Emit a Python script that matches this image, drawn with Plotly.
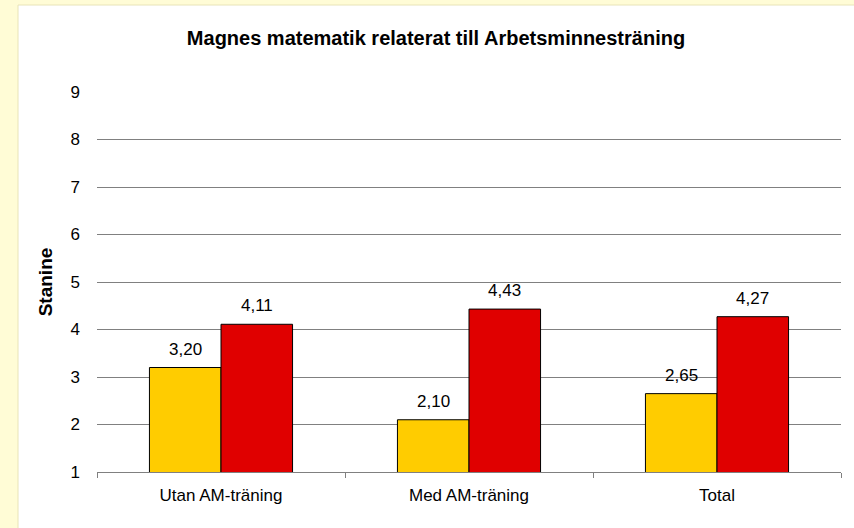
import plotly.graph_objects as go

categories = ["Utan AM-träning", "Med AM-träning", "Total"]
series_a = [3.20, 2.10, 2.65]
series_b = [4.11, 4.43, 4.27]
y_ticks = [1, 2, 3, 4, 5, 6, 7, 8, 9]

def fmt(v):
    return f"{v:.2f}".replace(".", ",")

FONT = "Liberation Sans, Arial, sans-serif"
BG = "#FFFCD6"

W, H = 854, 528
L, R, T, B = 97, 13, 92, 56
pw, ph = W - L - R, H - T - B
BARGAP = 0.423
bar_px = pw / len(categories) * (1 - BARGAP) / 2

fig = go.Figure()
fig.add_trace(go.Bar(
    x=categories, y=series_a, name="A",
    marker=dict(color="#FFCC00", line=dict(color="#000000", width=1)),
))
fig.add_trace(go.Bar(
    x=categories, y=series_b, name="B",
    marker=dict(color="#E00000", line=dict(color="#000000", width=1)),
))

for vals, sh in ((series_a, -bar_px / 2), (series_b, bar_px / 2)):
    for c, v in zip(categories, vals):
        fig.add_annotation(x=c, y=v, text=fmt(v), showarrow=False,
                           xshift=sh, yshift=7, yanchor="bottom",
                           font=dict(family=FONT, size=17, color="#000000"))

def px_x(p):
    return (p - L) / pw

def px_y(p):
    return (H - B - p) / ph

fig.add_shape(type="rect", xref="paper", yref="paper",
              x0=px_x(18), x1=px_x(860), y0=px_y(5), y1=px_y(540),
              fillcolor="#FFFFFF", line=dict(color="#E8E4B8", width=1),
              layer="below")

fig.update_layout(
    width=W, height=H,
    margin=dict(l=L, r=R, t=T, b=B),
    paper_bgcolor=BG,
    plot_bgcolor="rgba(0,0,0,0)",
    showlegend=False,
    barmode="group",
    bargap=BARGAP,
    bargroupgap=0,
    font=dict(family=FONT, size=17, color="#000000"),
    title=dict(text="<b>Magnes matematik relaterat till Arbetsminnesträning</b>",
               x=436 / W, xref="container", xanchor="center",
               y=1 - 38 / H, yref="container", yanchor="middle",
               font=dict(family=FONT, size=20, color="#000000")),
    xaxis=dict(showline=True, linecolor="#808080", linewidth=1,
               ticks="outside", tickson="boundaries", ticklen=5,
               tickcolor="#808080", tickwidth=1, showgrid=False,
               ticklabelstandoff=8,
               tickfont=dict(family=FONT, size=17)),
    yaxis=dict(range=[1, 9], tickvals=y_ticks, ticktext=[str(v) for v in y_ticks],
               showgrid=True, gridcolor="#808080", gridwidth=1,
               zeroline=False, showline=False, ticks="",
               ticklabelstandoff=16,
               tickfont=dict(family=FONT, size=17),
               title=dict(text="<b>Stanine</b>", standoff=12,
                          font=dict(family=FONT, size=19))),
)

fig.write_html("out.html",
               config={"displayModeBar": False},
               post_script="document.body.style.margin='0';"
                           "document.body.style.background='" + BG + "';")
